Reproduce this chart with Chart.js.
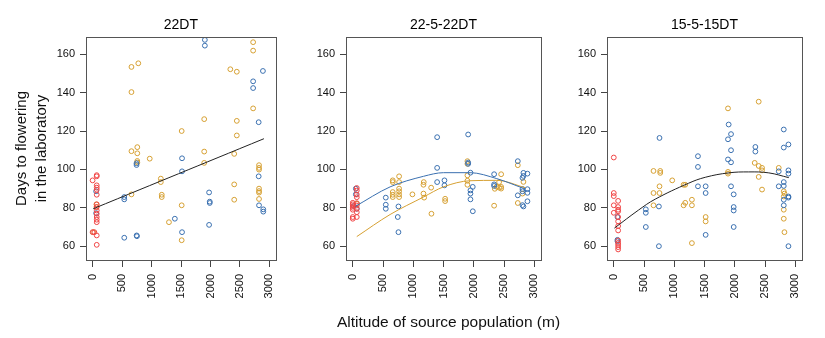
<!DOCTYPE html>
<html>
<head>
<meta charset="utf-8">
<script src="https://cdn.jsdelivr.net/npm/chart.js@4.4.1/dist/chart.umd.min.js"></script>
<style>
  html, body { margin: 0; padding: 0; background: #ffffff; }
  #wrap { position: relative; width: 825px; height: 338px; overflow: hidden; }
  .pc { position: absolute; top: 0; }
</style>
</head>
<body>
<div id="wrap">
  <div class="pc" id="b1" style="left:0px;width:290px;height:338px"><canvas id="c1"></canvas></div>
  <div class="pc" id="b2" style="left:290px;width:290px;height:338px"><canvas id="c2"></canvas></div>
  <div class="pc" id="b3" style="left:550px;width:275px;height:338px"><canvas id="c3"></canvas></div>
</div>
<script>
// ---------- tick labels / axis constants ----------
const panelTitles = ["22DT", "22-5-22DT", "15-5-15DT"];
const xTicks = [0, 500, 1000, 1500, 2000, 2500, 3000];
const yTicks = [60, 80, 100, 120, 140, 160];
const yAxisTitle = ["Days to flowering", "in the laboratory"];
const xAxisTitle = "Altitude of source population (m)";

// ---------- Panel 1: 22DT ----------
const p1Red = [[0,94.3],[0,67.3],[30,67.3],[70,97],[70,96.4],[70,91.7],[70,90.5],[70,89.4],[70,86.8],[70,81.8],[70,80.4],[70,78.6],[70,76.9],[70,75.2],[70,73.8],[70,72.5],[70,65.6],[70,60.7]];
const p1Blue = [[60,88.6],[60,77.2],[537,85.6],[537,84.4],[537,64.4],[747,65.6],[752,65.2],[745,102.3],[745,103.2],[1395,74.3],[1517,105.8],[1517,99],[1517,67.3],[1904,167.5],[1904,164.5],[1976,88],[1987,83.2],[1987,82.5],[1976,71.1],[2723,145.9],[2723,142.4],[2889,151.3],[2817,124.6],[2817,96.4],[2823,81.3],[2895,79.2],[2895,78]];
const p1Gold = [[10,67.3],[65,81.8],[65,80.4],[659,153.4],[775,155.3],[659,140.3],[659,109.5],[758,111.6],[758,108.4],[758,104.4],[758,103.6],[659,87],[969,105.6],[1157,95.2],[1157,93.4],[1173,86.8],[1173,85.6],[1295,72.5],[1511,120],[1511,81.3],[1511,63.1],[1893,126.2],[1893,109.3],[1893,103.4],[2336,152.2],[2446,150.9],[2446,125.3],[2446,117.7],[2402,108.1],[2402,92.2],[2402,84.2],[2723,166.3],[2723,161.9],[2723,131.8],[2823,102.2],[2823,100.8],[2823,99.9],[2823,90],[2823,88.7],[2823,87.9],[2823,84.6]];
const p1Fit = [[10,79.5],[2906,116]];

// ---------- Panel 2: 22-5-22DT ----------
const p2Red = [[0,82.6],[0,81.8],[0,80.9],[0,80],[0,79],[0,75.2],[0,74.3],[66,90.3],[66,89],[66,86.9],[66,85.5],[66,82.4],[66,81.2],[66,79.5],[66,77.7],[66,75.2]];
const p2Blue = [[50,90],[50,87],[20,80.9],[66,79.5],[545,85.3],[545,81.6],[545,79.5],[754,80.7],[743,75.2],[754,67.3],[1393,116.8],[1393,100.8],[1393,93.4],[1514,94.3],[1514,91.7],[1905,118.2],[1905,103.6],[1905,102.9],[1943,98.3],[1943,89.1],[1943,87.4],[1943,84.4],[1981,90.9],[1982,78.2],[2334,97.5],[2334,92.2],[2334,91.4],[2725,104.3],[2725,86.5],[2818,98.2],[2818,96.6],[2802,95.6],[2802,89.8],[2802,88.6],[2802,81.4],[2818,80.7],[2884,97.8],[2884,89.7],[2884,87.8],[2884,83.4]];
const p2Gold = [[70,82.1],[660,94.3],[660,93.4],[660,88.2],[660,86.8],[660,85.6],[765,96.4],[765,93.4],[765,90],[765,88.6],[765,87],[765,85.6],[985,87],[1167,87.4],[1167,92],[1172,93.4],[1178,85.3],[1294,90.5],[1299,76.9],[1525,84.7],[1525,83.5],[1893,104.3],[1893,102.9],[1893,96.9],[1893,94.1],[1893,92],[2334,81.1],[2345,89.9],[2375,91],[2416,93.4],[2416,90.5],[2450,97.5],[2450,90.9],[2450,90],[2725,102.2],[2725,82.5],[2802,87.4],[2818,93.5]];
const p2BlueFit = [[40,80.7],[616,90.9],[1167,96.4],[1497,98.3],[1937,98.3],[2378,95.2],[2846,89.8]];
const p2GoldFit = [[66,65],[616,76.5],[1167,85.6],[1497,90.9],[1937,94.1],[2378,94.3],[2846,90.5]];

// ---------- Panel 3: 15-5-15DT ----------
const p3Red = [[0,106.2],[0,87.7],[0,86.1],[0,81.3],[0,77.4],[72,83.6],[72,80.4],[72,79],[72,78.2],[72,75.2],[72,72.9],[72,70.5],[72,68.2],[72,63],[72,61.7],[72,60.7],[72,59.5],[72,58.3]];
const p3Blue = [[61,75.2],[61,63.3],[61,62.6],[529,79.2],[529,77.4],[529,70],[755,116.4],[745,80.7],[745,60],[1390,106.9],[1390,101.3],[1390,91.2],[1517,91.2],[1517,87.7],[1517,65.9],[1897,123.4],[1886,115.7],[1936,118.4],[1936,110],[1886,105.2],[1936,103.7],[1936,91.2],[1980,87],[1980,80.4],[1980,78.6],[1980,70],[2338,111.7],[2338,109.3],[2724,91.2],[2724,99],[2807,120.8],[2807,111.4],[2807,93.4],[2807,91.4],[2807,84.2],[2807,81.3],[2884,113],[2884,99.5],[2884,97.8],[2884,85.9],[2884,85.3],[2884,60]];
const p3Gold = [[656,99.2],[656,87.7],[656,81.3],[767,99.2],[767,98.2],[755,91.2],[755,87.7],[965,94.3],[1153,92],[1180,92],[1180,82.6],[1153,81.3],[1290,84.2],[1290,81.3],[1290,61.6],[1517,75.2],[1517,72.9],[1886,131.8],[1886,98.7],[1886,97.8],[2327,103.4],[2393,101.8],[2393,96.1],[2393,135.3],[2448,100.8],[2448,99.5],[2448,89.5],[2724,100.8],[2807,88.6],[2818,87.4],[2807,85.9],[2807,79],[2807,74.3],[2818,67.3]];
const p3Fit = [[10,69.4],[408,78.8],[684,84.5],[1235,92.8],[1511,95.9],[1897,98.2],[2228,98.7],[2559,98.2],[2890,95.7]];

// ---------- styling ----------
const RED = "#f04545", BLUE = "#3a70b0", GOLD = "#d6a032", FITBLACK = "#222222";
const FONT = "'Liberation Sans', Arial, sans-serif";

const toXY = arr => arr.map(p => ({ x: p[0], y: p[1] }));

function pts(data, color) {
  return { type: 'scatter', data: toXY(data), pointStyle: 'circle', pointRadius: 2.4,
           pointBorderWidth: 1, borderColor: color, backgroundColor: 'rgba(0,0,0,0)',
           pointHoverRadius: 2.4, showLine: false };
}
function fit(data, color, monotone) {
  const d = { type: 'line', data: toXY(data), borderColor: color, borderWidth: 1,
              pointRadius: 0, fill: false, tension: 0.4 };
  if (monotone) d.cubicInterpolationMode = 'monotone';
  return d;
}

const decorPlugin = {
  id: 'panelDecor',
  afterDraw(chart, args, opts) {
    const { ctx, chartArea: a } = chart;
    ctx.save();
    ctx.strokeStyle = '#555555';
    ctx.lineWidth = 1;
    ctx.strokeRect(Math.round(a.left) + 0.5, Math.round(a.top) + 0.5,
                   Math.round(a.right - a.left), Math.round(a.bottom - a.top));
    ctx.fillStyle = '#000000';
    ctx.font = "14px " + FONT;
    ctx.textAlign = 'center';
    ctx.textBaseline = 'middle';
    ctx.fillText(opts.text, (a.left + a.right) / 2, 25);
    if (opts.xTitle) {
      ctx.fillStyle = '#111111';
      ctx.font = "15.5px " + FONT;
      ctx.fillText(opts.xTitle, (a.left + a.right) / 2 + 5, 323);
    }
    ctx.restore();
  }
};

function makePanel(canvasId, title, datasets, yWidth, padRight, showYTitle, xTitleText) {
  return new Chart(document.getElementById(canvasId), {
    type: 'scatter',
    data: { datasets },
    plugins: [decorPlugin],
    options: {
      responsive: true, maintainAspectRatio: false, animation: false,
      layout: { padding: { top: 37, right: padRight, bottom: 0, left: 0 } },
      plugins: { legend: { display: false }, tooltip: { enabled: false },
                 panelDecor: { text: title, xTitle: xTitleText } },
      scales: {
        x: {
          type: 'linear', min: -112, max: 3108,
          afterFit: s => { s.height = 78; },
          afterBuildTicks: s => { s.ticks = xTicks.map(v => ({ value: v })); },
          grid: { display: true, drawOnChartArea: false, drawTicks: true, tickLength: 7, color: '#444444' },
          border: { display: false },
          ticks: { minRotation: 90, maxRotation: 90, padding: 7, color: '#111111',
                   font: { family: FONT, size: 11 }, callback: v => String(v) },
          title: { display: false }
        },
        y: {
          type: 'linear', min: 52.8, max: 169,
          afterFit: s => { s.width = yWidth; },
          afterBuildTicks: s => { s.ticks = yTicks.map(v => ({ value: v })); },
          grid: { display: true, drawOnChartArea: false, drawTicks: true, tickLength: 6, color: '#444444' },
          border: { display: false },
          ticks: { padding: 5, color: '#111111', font: { family: FONT, size: 11 }, callback: v => String(v) },
          title: { display: showYTitle, text: yAxisTitle, color: '#111111',
                   font: { family: FONT, size: 15, lineHeight: 1.33 }, padding: { top: 12, bottom: 0 } }
        }
      }
    }
  });
}

makePanel('c1', panelTitles[0],
  [fit(p1Fit, FITBLACK, false), pts(p1Red, RED), pts(p1Blue, BLUE), pts(p1Gold, GOLD)],
  86, 10, true, null);
makePanel('c2', panelTitles[1],
  [fit(p2BlueFit, BLUE, true), fit(p2GoldFit, GOLD, true), pts(p2Red, RED), pts(p2Blue, BLUE), pts(p2Gold, GOLD)],
  56, 39, false, xAxisTitle);
makePanel('c3', panelTitles[2],
  [fit(p3Fit, FITBLACK, false), pts(p3Red, RED), pts(p3Blue, BLUE), pts(p3Gold, GOLD)],
  57, 23, false, null);
</script>
</body>
</html>
